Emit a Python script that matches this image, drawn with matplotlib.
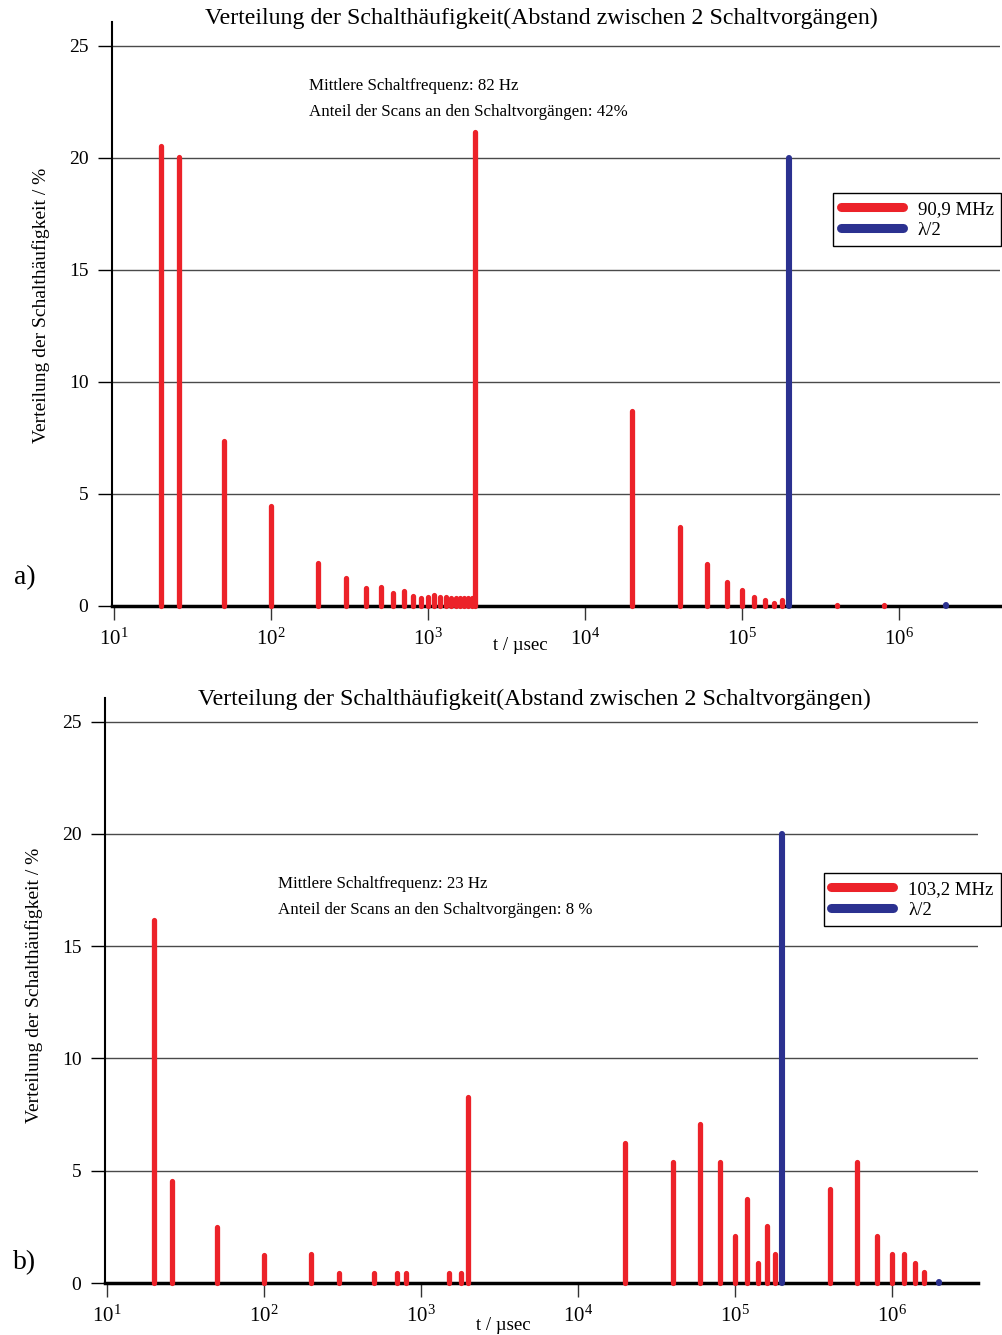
import numpy as np
import matplotlib.pyplot as plt
from matplotlib.ticker import LogLocator, NullLocator, MultipleLocator

plt.rcParams['font.family'] = ['Liberation Serif', 'DejaVu Serif']

RED = '#ec2229'
BLUE = '#2b3190'

title = 'Verteilung der Schalthäufigkeit(Abstand zwischen 2 Schaltvorgängen)'
ylabel = 'Verteilung der Schalthäufigkeit / %'
xlabel = 't / µsec'

# a) 90,9 MHz: Abstand in µs, Anteil in %
t_a = [20, 26, 50, 100, 200, 300, 400, 500, 600, 700, 800, 900, 1000, 1100, 1200,
       1300, 1400, 1500, 1600, 1700, 1800, 1900, 2000, 20000, 40000, 60000, 80000,
       100000, 120000, 140000, 160000, 180000, 400000, 800000]
v_a = [20.5, 20.05, 7.35, 4.46, 1.93, 1.26, 0.82, 0.86, 0.59, 0.67, 0.45, 0.34, 0.41, 0.48, 0.41,
       0.39, 0.34, 0.34, 0.34, 0.34, 0.34, 0.34, 21.15, 8.69, 3.53, 1.89, 1.08,
       0.73, 0.4, 0.28, 0.13, 0.25, 0.05, 0.04]
t_a_lam = [200000, 2000000]
v_a_lam = [20.0, 0.04]

# b) 103,2 MHz
t_b = [20, 26, 50, 100, 200, 300, 500, 700, 800, 1500, 1800, 2000, 20000, 40000,
       60000, 80000, 100000, 120000, 140000, 160000, 180000, 400000, 600000, 800000,
       1000000, 1200000, 1400000, 1600000]
v_b = [16.18, 4.55, 2.5, 1.25, 1.29, 0.45, 0.45, 0.45, 0.45, 0.45, 0.45, 8.29, 6.24, 5.41,
       7.07, 5.41, 2.11, 3.76, 0.89, 2.52, 1.31, 4.19, 5.41, 2.11,
       1.31, 1.31, 0.89, 0.47]
t_b_lam = [200000, 2000000]
v_b_lam = [20.0, 0.04]

W, H = 1002, 1335
fig = plt.figure(figsize=(W / 100, H / 100), dpi=100)


def panel(rect, xmax_log, t_red, v_red, t_blue, v_blue, red_label, info, info_pos,
          ylab_pos, leg_top, title_y, xlab_x, letter_y, letter):
    ax = fig.add_axes(rect)
    for i, (t, v) in enumerate(zip(t_red, v_red)):
        ax.plot([t, t], [0, v], color=RED, lw=3.8, solid_capstyle='round', clip_on=False,
                label=red_label if i == 0 else None, zorder=6)
    for i, (t, v) in enumerate(zip(t_blue, v_blue)):
        ax.plot([t, t], [0, v], color=BLUE, lw=4.4, solid_capstyle='round', clip_on=False,
                label='λ/2' if i == 0 else None, zorder=7)
    ax.set_xscale('log')
    ax.set_xlim(10 ** (1 - 2 / 157), 10 ** xmax_log)
    ax.set_ylim(0, 26.05)
    ax.xaxis.set_major_locator(LogLocator(base=10, numticks=10))
    ax.xaxis.set_minor_locator(NullLocator())
    ax.yaxis.set_major_locator(MultipleLocator(5))
    for y in [5, 10, 15, 20, 25]:
        ax.axhline(y, color='#4a4a4a', lw=1.0, zorder=1)
    for s in ['top', 'right']:
        ax.spines[s].set_visible(False)
    ax.spines['left'].set_linewidth(1.5)
    ax.spines['bottom'].set_linewidth(2.5)
    ax.spines['bottom'].set_zorder(5)
    ax.tick_params(axis='x', direction='out', length=10, width=1, colors='#333333',
                   labelcolor='black', labelsize=15, pad=6)
    ax.tick_params(axis='y', direction='out', length=10, width=1, labelsize=14, pad=7)
    ax.set_ylabel(ylabel, fontsize=14)
    ax.yaxis.set_label_coords(*ylab_pos)
    ax.text(info_pos[0], info_pos[1], info[0], transform=ax.transAxes, fontsize=12.2,
            ha='left', va='center')
    ax.text(info_pos[0], info_pos[1] - 0.044, info[1], transform=ax.transAxes, fontsize=12.2,
            ha='left', va='center')
    leg = ax.legend(loc='upper right', bbox_to_anchor=(1001 / W, 1 - leg_top / H),
                    bbox_transform=fig.transFigure, borderaxespad=0, fontsize=13.5,
                    fancybox=False, framealpha=1, edgecolor='black', handlelength=3.3,
                    handletextpad=0.8, labelspacing=0.22, borderpad=0.4)
    leg.get_frame().set_linewidth(1.0)
    for line in leg.get_lines():
        line.set_linewidth(6.5)
    fig.text(title_y[0] / W, 1 - title_y[1] / H, title, ha='center', va='center', fontsize=17.2)
    fig.text(xlab_x[0] / W, 1 - xlab_x[1] / H, xlabel, ha='center', va='center', fontsize=13.5)
    fig.text(25 / W, 1 - letter_y / H, letter, ha='center', va='center', fontsize=20)
    return ax


panel([112 / W, 1 - 606 / H, 888 / W, 584 / H], 1 + (1000 - 114) / 157, t_a, v_a, t_a_lam, v_a_lam,
      '90,9 MHz', ['Mittlere Schaltfrequenz: 82 Hz', 'Anteil der Scans an den Schaltvorgängen: 42%'],
      (0.222, 0.890), (-0.07, 0.515), 193, (541, 18), (520, 646), 578, 'a)')

panel([105 / W, 1 - 1283 / H, 873 / W, 585 / H], 1 + (978 - 107) / 157, t_b, v_b, t_b_lam, v_b_lam,
      '103,2 MHz', ['Mittlere Schaltfrequenz: 23 Hz', 'Anteil der Scans an den Schaltvorgängen: 8 %'],
      (0.198, 0.682), (-0.071, 0.509), 873, (534, 699), (503, 1325), 1263, 'b)')

plt.savefig('out.png', dpi=100)
